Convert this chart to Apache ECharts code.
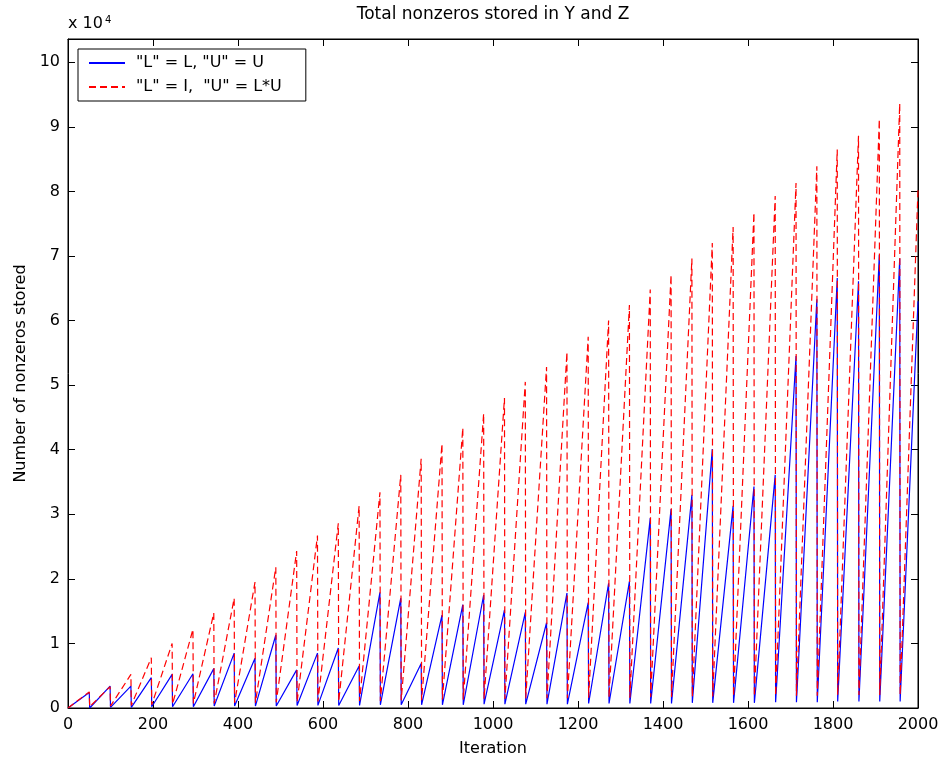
<!DOCTYPE html>
<html>
<head>
<meta charset="utf-8">
<script src="https://cdn.jsdelivr.net/npm/echarts@6/dist/echarts.min.js"></script>
<style>
html,body{margin:0;padding:0;background:#fff;}
#chart{width:945px;height:763px;}
</style>
</head>
<body>
<div id="chart"></div>
<script>
// ---- data ----
const xTicks = [0, 200, 400, 600, 800, 1000, 1200, 1400, 1600, 1800, 2000];
const yTickLabels = ['0','1','2','3','4','5','6','7','8','9','10'];
const seriesNames = ['"L" = L, "U" = U', '"L" = I,  "U" = L*U'];

// iteration of each restart peak (last iteration before the drop)
const peakIters = [50, 99, 148, 196, 245, 294, 343, 391, 440, 489,
  538, 587, 636, 685, 734, 783, 831, 880, 929, 978,
  1027, 1076, 1126, 1174, 1224, 1272, 1321, 1370, 1419, 1468,
  1516, 1565, 1614, 1664, 1713, 1762, 1810, 1860, 1909, 1957];
const lastIter = 2000;

// "L" = I, "U" = L*U  (red dashed): peak and start value of every cycle
const redPeaks = [2500, 3300, 5200, 7800, 10000, 12200, 14700, 17000, 19500, 21800,
  24300, 26700, 28600, 31300, 33400, 36100, 38600, 40900, 43400, 45600,
  48000, 50500, 52800, 55100, 57500, 60000, 62400, 64800, 67100, 69600,
  72000, 74500, 76700, 79300, 81300, 83900, 86500, 88600, 91200, 93600];
const redStarts = [0, 200, 300, 400, 500, 600, 700, 700, 800, 800,
  900, 900, 1000, 1000, 1100, 1100, 1200, 1200, 1300, 1300,
  1400, 1400, 1500, 1500, 1500, 1600, 1600, 1600, 1700, 1700,
  1700, 1800, 1800, 1800, 1900, 1900, 1900, 2000, 2000, 2000, 2000];
const redEnd = 80300;

// "L" = L, "U" = U  (blue solid)
const bluePeaks = [2400, 3400, 3400, 4700, 5200, 5300, 6100, 8500, 7700, 11300,
  5900, 8500, 9300, 6500, 17900, 17000, 6900, 14400, 16000, 17500,
  15200, 14800, 13200, 17800, 16300, 19300, 19600, 29400, 30800, 33000,
  40100, 31300, 34300, 36100, 54500, 63300, 66600, 66100, 70200, 69600];
const blueStarts = [0, 0, 100, 100, 200, 200, 200, 300, 300, 300,
  300, 400, 400, 400, 400, 500, 500, 500, 500, 500,
  600, 600, 600, 600, 600, 700, 700, 700, 700, 700,
  800, 800, 800, 800, 900, 900, 900, 1000, 1000, 1000, 1000];
const blueEnd = 63000;

// ---- build [x, y] pairs for the library ----
function build(starts, peaks, endVal) {
  const out = [[0, starts[0]]];
  for (let i = 0; i < peaks.length; i++) {
    out.push([peakIters[i], peaks[i]]);
    out.push([peakIters[i] + 1, starts[i + 1]]);
  }
  out.push([lastIter, endVal]);
  return out;
}
const blueData = build(blueStarts, bluePeaks, blueEnd);
const redData = build(redStarts, redPeaks, redEnd);

const FONT = 'DejaVu Sans';
const chart = echarts.init(document.getElementById('chart'), null, {renderer: 'canvas'});
const axisCommon = {
  type: 'value',
  axisLine: {show: true, onZero: false, lineStyle: {color: '#000', width: 1}},
  axisTick: {show: true, inside: true, length: 7, lineStyle: {color: '#000'}},
  splitLine: {show: false}
};
chart.setOption({
  animation: false,
  backgroundColor: '#fff',
  grid: {left: 68, right: 27, top: 39, bottom: 55, show: true, borderColor: '#000', borderWidth: 1, backgroundColor: '#fff'},
  xAxis: [
    Object.assign({}, axisCommon, {
      position: 'bottom', min: xTicks[0], max: xTicks[xTicks.length - 1], interval: 200,
      axisLabel: {fontFamily: FONT, fontSize: 16, color: '#000', margin: 9,
        formatter: function (v) { return String(v); }},
      name: 'Iteration', nameLocation: 'middle', nameGap: 33,
      nameTextStyle: {fontFamily: FONT, fontSize: 16, color: '#000'}
    }),
    Object.assign({}, axisCommon, {
      position: 'top', min: xTicks[0], max: xTicks[xTicks.length - 1], interval: 200,
      axisLabel: {show: false}
    })
  ],
  yAxis: [
    Object.assign({}, axisCommon, {
      position: 'left', min: 0, max: 103600, interval: 10000,
      axisLabel: {fontFamily: FONT, fontSize: 16, color: '#000', margin: 8,
        formatter: function (v) { return v % 10000 === 0 ? yTickLabels[v / 10000] : ''; }},
      name: 'Number of nonzeros stored', nameLocation: 'middle', nameGap: 38,
      nameTextStyle: {fontFamily: FONT, fontSize: 16, color: '#000'}
    }),
    Object.assign({}, axisCommon, {
      position: 'right', min: 0, max: 103600, interval: 10000,
      axisLabel: {show: false}
    })
  ],
  legend: {
    orient: 'vertical', left: 78, top: 49,
    backgroundColor: '#fff', borderColor: '#000', borderWidth: 1,
    padding: [6, 24, 6, 10], itemGap: 8, itemWidth: 36, itemHeight: 14,
    itemStyle: {opacity: 0},
    textStyle: {fontFamily: FONT, fontSize: 16, color: '#000', padding: [0, 0, 0, 6]},
    data: seriesNames
  },
  graphic: [
    {type: 'text', x: 493, y: 6, style: {text: 'Total nonzeros stored in Y and Z', font: '17px "DejaVu Sans"', fill: '#000', textAlign: 'center'}},
    {type: 'text', left: 68, top: 16, style: {text: 'x 10', font: '16px "DejaVu Sans"', fill: '#000'}},
    {type: 'text', left: 105, top: 15, style: {text: '4', font: '10px "DejaVu Sans"', fill: '#000'}}
  ],
  series: [
    {name: seriesNames[0], type: 'line', data: blueData, symbol: 'none', xAxisIndex: 0, yAxisIndex: 0,
      lineStyle: {color: '#0000ff', width: 1.2}, itemStyle: {color: '#0000ff'}},
    {name: seriesNames[1], type: 'line', data: redData, symbol: 'none', xAxisIndex: 0, yAxisIndex: 0,
      lineStyle: {color: '#ff0000', width: 1.2, type: [7, 4]}, itemStyle: {color: '#ff0000'}}
  ]
});
</script>
</body>
</html>
